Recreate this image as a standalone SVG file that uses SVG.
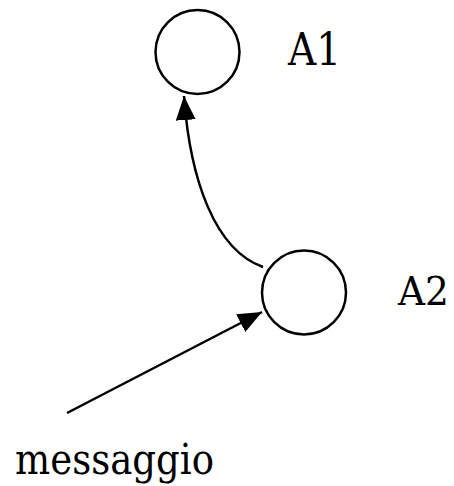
<svg xmlns="http://www.w3.org/2000/svg" width="454" height="486" viewBox="0 0 454 486">
<style>
.node{fill:#fff;stroke:#000;stroke-width:2.5}
.lbl{font-family:'DejaVu Serif','Liberation Serif',serif;font-size:44px;fill:#000}
.msg{font-size:43px}
.a2{font-size:40px}
.edge{fill:none;stroke:#000;stroke-width:2.5}
</style>
<defs>
<marker id="ah" viewBox="0 0 24 20" refX="24" refY="10" markerWidth="24" markerHeight="20" markerUnits="userSpaceOnUse" orient="auto">
<path d="M0,0 L24,10 L0,20 Z" fill="#000"/>
</marker>
</defs>
<g id="A1">
<circle class="node" cx="197.5" cy="52" r="42"/>
<text class="lbl" x="288" y="65" textLength="53" lengthAdjust="spacingAndGlyphs">A1</text>
</g>
<g id="A2">
<circle class="node" cx="304" cy="292.5" r="42"/>
<text class="lbl a2" x="398" y="305" textLength="51" lengthAdjust="spacingAndGlyphs">A2</text>
</g>
<g id="messaggio">
<text class="lbl msg" x="15" y="474" textLength="199" lengthAdjust="spacingAndGlyphs">messaggio</text>
</g>
<g id="connectors">
<path class="edge" d="M263,267 C215,250 190,180 184,96" marker-end="url(#ah)"/>
<path class="edge" d="M67,413 L262,312" marker-end="url(#ah)"/>
</g>
</svg>
